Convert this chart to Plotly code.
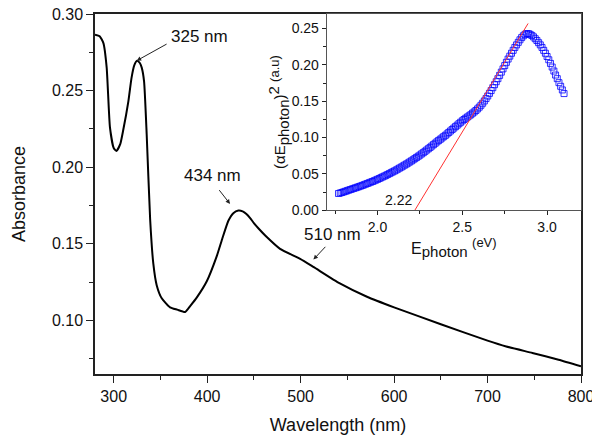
import plotly.graph_objects as go

# Main absorbance spectrum
wavelength = [280, 285, 289, 292.5, 296, 300, 303, 307, 310, 315.7, 319, 322, 325, 328, 330,
              332.5, 335.3, 339, 342.4, 346, 351.4, 360.3, 368, 376.4, 382, 389, 399.6, 410,
              416, 422.7, 428, 433.4, 438, 442, 446, 450, 455, 463.8, 478, 499.5, 513.7, 542,
              571, 600, 650, 700, 720, 748, 776, 800]
absorbance = [0.2865, 0.2855, 0.281, 0.265, 0.226, 0.2125, 0.2106, 0.215, 0.2236, 0.243, 0.258,
              0.2665, 0.2695, 0.268, 0.265, 0.256, 0.2215, 0.166, 0.137, 0.123, 0.1144, 0.1085,
              0.107, 0.1055, 0.1095, 0.1150, 0.1255, 0.1414, 0.153, 0.165, 0.170, 0.1717, 0.1712,
              0.1695, 0.1668, 0.1635, 0.160, 0.1544, 0.1467, 0.1402, 0.1349, 0.1241, 0.1154,
              0.1085, 0.0975, 0.0868, 0.0830, 0.0787, 0.0743, 0.0700]

# Inset Tauc plot
e_photon = [1.77, 1.78, 1.79, 1.80, 1.81, 1.82, 1.83, 1.84, 1.85, 1.86, 1.87, 1.88, 1.89, 1.90,
            1.91, 1.92, 1.93, 1.94, 1.95, 1.96, 1.97, 1.98, 1.99, 2.00, 2.01, 2.02, 2.03, 2.04,
            2.05, 2.06, 2.07, 2.08, 2.09, 2.10, 2.11, 2.12, 2.13, 2.14, 2.15, 2.16, 2.17, 2.18,
            2.19, 2.20, 2.21, 2.22, 2.23, 2.24, 2.25, 2.26, 2.27, 2.28, 2.29, 2.30, 2.31, 2.32,
            2.33, 2.34, 2.35, 2.36, 2.37, 2.38, 2.39, 2.40, 2.41, 2.42, 2.43, 2.44, 2.45, 2.46,
            2.47, 2.48, 2.49, 2.50, 2.51, 2.52, 2.53, 2.54, 2.55, 2.56, 2.57, 2.58, 2.59, 2.60,
            2.61, 2.62, 2.63, 2.64, 2.65, 2.66, 2.67, 2.68, 2.69, 2.70, 2.71, 2.72, 2.73, 2.74,
            2.75, 2.76, 2.77, 2.78, 2.79, 2.80, 2.81, 2.82, 2.83, 2.84, 2.85, 2.86, 2.87, 2.88,
            2.89, 2.90, 2.91, 2.92, 2.93, 2.94, 2.95, 2.96, 2.97, 2.98, 2.99, 3.00, 3.01, 3.02,
            3.03, 3.04, 3.05, 3.06, 3.07, 3.08, 3.09, 3.10]
tauc = [0.0230, 0.0237, 0.0244, 0.0252, 0.0260, 0.0268, 0.0276, 0.0284, 0.0292, 0.0300, 0.0308,
        0.0316, 0.0324, 0.0332, 0.0341, 0.0350, 0.0359, 0.0368, 0.0377, 0.0386, 0.0395, 0.0405,
        0.0415, 0.0425, 0.0436, 0.0447, 0.0458, 0.0469, 0.0480, 0.0492, 0.0504, 0.0516, 0.0528,
        0.0540, 0.0553, 0.0566, 0.0580, 0.0593, 0.0607, 0.0621, 0.0635, 0.0649, 0.0664, 0.0679,
        0.0694, 0.0710, 0.0726, 0.0742, 0.0758, 0.0775, 0.0792, 0.0810, 0.0828, 0.0846, 0.0864,
        0.0883, 0.0902, 0.0921, 0.0940, 0.0958, 0.0976, 0.0994, 0.1012, 0.1030, 0.1050, 0.1070,
        0.1090, 0.1110, 0.1130, 0.1150, 0.1170, 0.1190, 0.1210, 0.1230, 0.1248, 0.1265, 0.1282,
        0.1298, 0.1314, 0.1335, 0.1352, 0.1372, 0.1394, 0.1418, 0.1444, 0.1472, 0.1503, 0.1536,
        0.1571, 0.1608, 0.1646, 0.1686, 0.1727, 0.1768, 0.1810, 0.1855, 0.1900, 0.1945, 0.1990,
        0.2035, 0.2080, 0.2120, 0.2160, 0.2200, 0.2240, 0.2275, 0.2310, 0.2345, 0.2375, 0.2400,
        0.2420, 0.2430, 0.2430, 0.2420, 0.2405, 0.2385, 0.2360, 0.2335, 0.2305, 0.2275, 0.2240,
        0.2200, 0.2160, 0.2115, 0.2070, 0.2020, 0.1970, 0.1915, 0.1860, 0.1810, 0.1755, 0.1705,
        0.1655, 0.1605]

# Linear fit line endpoints
fit_e = [2.22, 2.888]
fit_v = [0.0, 0.257]

FONT = "Liberation Sans, Arial, sans-serif"
AX = "#222222"

fig = go.Figure()
fig.add_trace(go.Scatter(x=wavelength, y=absorbance, mode="lines",
                         line=dict(color="black", width=2, shape="spline", smoothing=0.5),
                         xaxis="x", yaxis="y", showlegend=False))
fig.add_trace(go.Scatter(x=e_photon, y=tauc, mode="markers",
                         marker=dict(symbol="square-open", size=6, color="rgba(0,0,255,0.8)",
                                     line=dict(width=1)),
                         xaxis="x2", yaxis="y2", showlegend=False))
fig.add_trace(go.Scatter(x=fit_e, y=fit_v, mode="lines",
                         line=dict(color="#ff3030", width=1),
                         xaxis="x2", yaxis="y2", showlegend=False))

# The page body adds an 8px offset, so the figure is 8px smaller than the window
fig.update_layout(
    width=592, height=431,
    margin=dict(l=87, r=19, t=6, b=65),
    paper_bgcolor="white", plot_bgcolor="white",
    font=dict(family=FONT, color="#111111"),
    xaxis=dict(domain=[0, 1], range=[280, 800], dtick=100, ticks="outside", ticklen=7,
               tickwidth=1, tickcolor=AX, showline=True, linecolor=AX, linewidth=1.5,
               mirror=True, showgrid=False, zeroline=False, automargin=False,
               ticklabeloverflow="allow",
               minor=dict(dtick=50, ticks="outside", ticklen=4, tickcolor=AX),
               tickfont=dict(size=16), title=dict(text="Wavelength (nm)", font=dict(size=18),
                                                  standoff=14)),
    yaxis=dict(domain=[0, 1], range=[0.065, 0.30], dtick=0.05, tickformat=".2f",
               ticks="outside", ticklen=7, tickwidth=1, tickcolor=AX, showline=True,
               linecolor=AX, linewidth=1.5, mirror=True, showgrid=False, zeroline=False,
               automargin=False, ticklabeloverflow="allow",
               minor=dict(dtick=0.025, ticks="outside", ticklen=4, tickcolor=AX),
               tickfont=dict(size=16), title=dict(text="Absorbance", font=dict(size=18),
                                                  standoff=22)),
    xaxis2=dict(domain=[0.4767, 1.0], anchor="y2", range=[1.7, 3.2], dtick=0.5,
                tickformat=".1f", ticks="outside", ticklen=4, tickcolor=AX, showline=True,
                linecolor="#555555", linewidth=1, mirror=True, showgrid=False, zeroline=False,
                automargin=False,
                minor=dict(dtick=0.25, ticks="outside", ticklen=3, tickcolor=AX),
                tickfont=dict(size=14),
                title=dict(text="E<sub><span style='font-size:15px'>photon</span></sub> "
                                "<sup><span style='font-size:13px'>(eV)</span></sup>",
                           font=dict(size=16), standoff=4)),
    yaxis2=dict(domain=[0.455, 1.0], anchor="x2", range=[0, 0.27], dtick=0.05,
                tickformat=".2f", ticks="outside", ticklen=4, tickcolor=AX, showline=True,
                linecolor="#555555", linewidth=1, mirror=True, showgrid=False, zeroline=False,
                automargin=False, ticklabeloverflow="allow",
                minor=dict(dtick=0.025, ticks="outside", ticklen=3, tickcolor=AX),
                tickfont=dict(size=14),
                title=dict(text="(αE<sub><span style='font-size:15px'>photon</span></sub>)"
                                "<sup><span style='font-size:15px'>2</span></sup> "
                                "<sup><span style='font-size:13px'>(a.u)</span></sup>",
                           font=dict(size=15), standoff=0)),
)

# Background for inset so it sits above the main axes
fig.add_shape(type="rect", xref="x2 domain", yref="y2 domain", x0=0, x1=1, y0=0, y1=1,
              fillcolor="white", line=dict(width=0), layer="below")

ann_font = dict(size=17, color="#111111", family=FONT)
# Peak labels
fig.add_annotation(x=392, y=0.2853, xref="x", yref="y", text="325 nm", showarrow=False, font=ann_font)
fig.add_annotation(x=406, y=0.1944, xref="x", yref="y", text="434 nm", showarrow=False, font=ann_font)
fig.add_annotation(x=534, y=0.1561, xref="x", yref="y", text="510 nm", showarrow=False, font=ann_font)
# Arrows
for (hx, hy, tx, ty) in [(324.6, 0.2695, 358.2, 0.2809),
                         (424.5, 0.176, 411.7, 0.186),
                         (513.7, 0.1397, 528.0, 0.149)]:
    fig.add_annotation(x=hx, y=hy, ax=tx, ay=ty, xref="x", yref="y", axref="x", ayref="y",
                       text="", showarrow=True, arrowhead=2, arrowsize=0.9, arrowwidth=1,
                       arrowcolor="#222222")
fig.add_annotation(x=2.125, y=0.0139, xref="x2", yref="y2", text="2.22", showarrow=False,
                   font=dict(size=14, color="#111111", family=FONT))

fig.write_html("out.html")
